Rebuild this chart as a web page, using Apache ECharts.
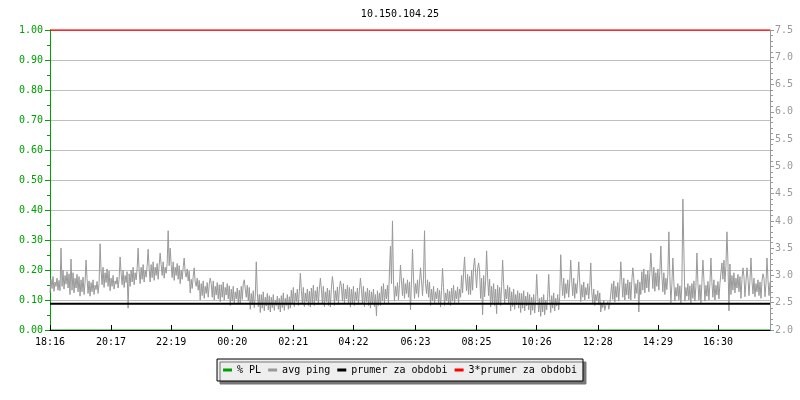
<!DOCTYPE html>
<html>
<head>
<meta charset="utf-8">
<script src="https://cdn.jsdelivr.net/npm/echarts@6/dist/echarts.min.js"></script>
<style>html,body{margin:0;padding:0;background:#fff}#c{width:800px;height:400px}</style>
</head>
<body>
<div id="c"></div>
<script>
const titleText = '10.150.104.25';
const legendNames = ['% PL', 'avg ping', 'prumer za obdobi', '3*prumer za obdobi'];
const tickIndex = [0, 61, 121, 182, 243, 303, 365, 426, 486, 547, 607, 667];
const tickLabels = ['18:16', '20:17', '22:19', '00:20', '02:21', '04:22', '06:23', '08:25', '10:26', '12:28', '14:29', '16:30'];
const plValues = [[0, 0], [719, 0]];
const avgPing = [
2.68,2.93,2.76,2.98,2.71,2.88,2.80,2.95,2.73,2.91,
2.72,3.50,2.80,3.10,2.75,3.00,2.84,3.07,2.77,3.03,
2.65,3.30,2.73,3.05,2.68,2.95,2.77,3.02,2.70,2.98,
2.62,2.92,2.70,2.97,2.65,2.87,3.28,2.94,2.67,2.90,
2.62,2.87,2.70,2.92,2.65,2.82,2.74,2.89,2.67,2.85,
3.58,3.10,2.83,3.15,2.78,3.05,2.87,3.12,2.80,3.08,
2.72,2.95,2.80,3.00,2.75,2.90,2.84,2.97,2.77,2.93,
3.34,3.05,2.83,3.10,2.78,3.00,2.87,3.07,2.40,3.03,
2.80,3.10,2.88,3.15,2.83,3.05,2.92,3.12,3.50,3.08,
2.85,3.15,2.93,3.20,2.88,3.10,2.97,3.17,3.48,3.13,
2.88,3.20,2.96,3.25,2.91,3.15,3.00,3.22,2.93,3.18,
3.41,3.20,3.00,3.25,2.95,3.15,3.04,3.22,3.82,3.18,
3.50,3.20,2.96,3.25,2.91,3.15,3.00,3.22,2.93,3.18,
2.85,3.10,2.93,3.15,3.32,3.05,2.97,3.12,2.90,3.08,
2.68,2.93,2.76,2.98,3.14,2.88,2.80,2.95,2.73,2.91,
2.55,2.85,2.63,2.90,2.58,2.80,2.67,2.87,2.60,2.83,
2.95,2.85,2.60,2.90,2.55,2.80,2.64,2.87,2.57,2.83,
2.52,2.83,2.60,2.88,2.55,2.78,2.64,2.85,2.57,2.81,
2.45,2.75,2.53,2.80,2.48,2.70,2.57,2.77,2.50,2.73,
2.48,2.80,2.56,2.85,2.92,2.75,2.60,2.82,2.53,2.78,
2.38,2.67,2.46,2.72,2.41,2.62,3.25,2.69,2.43,2.65,
2.32,2.65,2.40,2.70,2.35,2.60,2.44,2.67,2.37,2.63,
2.33,2.60,2.41,2.65,2.36,2.55,2.45,2.62,2.38,2.58,
2.33,2.63,2.41,2.68,2.36,2.58,2.45,2.65,2.38,2.61,
2.40,2.73,2.48,2.78,2.43,2.68,2.52,2.75,2.45,2.71,
3.04,2.73,2.48,2.78,2.43,2.68,2.52,2.75,2.45,2.71,
2.42,2.77,2.50,2.82,2.45,2.72,2.54,2.79,2.47,2.75,
2.95,2.75,2.48,2.80,2.43,2.70,2.52,2.77,2.45,2.73,
2.42,2.77,2.98,2.82,2.45,2.72,2.54,2.79,2.47,2.75,
2.90,2.80,2.53,2.85,2.48,2.75,2.57,2.82,2.50,2.78,
2.42,2.75,2.50,2.80,2.45,2.70,2.54,2.77,2.47,2.73,
2.95,2.75,2.48,2.80,2.43,2.70,2.52,2.77,2.45,2.73,
2.40,2.70,2.48,2.75,2.43,2.65,2.26,2.72,2.45,2.68,
2.45,2.80,2.53,2.85,2.48,2.75,2.57,2.82,2.50,3.10,
3.54,2.85,4.00,2.90,2.53,2.80,2.62,2.87,2.55,2.83,
3.19,2.90,2.63,2.95,2.58,2.85,2.67,2.92,2.60,2.88,
2.37,2.90,3.48,2.95,2.58,2.85,2.67,2.92,2.60,2.88,
3.14,2.90,2.63,2.95,3.82,2.85,2.67,2.92,2.60,2.88,
2.45,2.75,2.53,2.80,2.48,2.70,2.57,2.77,2.50,2.73,
2.42,2.73,3.13,2.78,2.45,2.68,2.54,2.75,2.47,2.71,
2.45,2.77,2.53,2.82,2.48,2.72,2.57,2.79,2.50,2.75,
2.60,3.00,2.68,3.05,3.34,2.95,2.72,3.02,2.65,2.98,
2.65,3.10,2.73,3.15,3.32,3.05,2.77,3.12,3.23,3.08,
2.58,2.95,2.28,3.00,2.61,2.90,3.45,2.97,2.63,2.93,
2.42,2.80,2.50,2.85,2.45,2.75,2.30,2.82,2.47,2.78,
2.45,2.80,3.28,2.85,2.48,2.75,2.57,2.82,2.50,2.78,
2.35,2.70,2.43,2.75,2.38,2.65,2.47,2.72,2.40,2.68,
2.32,2.67,2.40,2.72,2.35,2.62,2.44,2.69,2.37,2.65,
2.28,2.60,2.36,2.65,2.31,2.55,3.02,2.62,2.33,2.58,
2.25,2.60,2.33,2.65,2.28,2.55,2.37,2.62,3.02,2.58,
2.32,2.63,2.40,2.68,2.35,2.58,2.44,2.65,2.37,2.61,
3.38,2.90,2.63,2.95,2.58,2.85,2.67,2.92,2.60,2.88,
3.28,2.90,2.63,2.95,2.58,2.85,2.67,2.92,3.25,2.88,
2.52,2.83,2.60,2.88,2.55,2.78,2.64,2.85,2.57,2.81,
3.23,2.70,2.50,2.75,2.45,2.65,2.54,2.72,2.47,2.68,
2.33,2.50,2.41,2.55,2.36,2.45,2.45,2.52,2.38,2.48,
2.48,2.85,2.56,2.90,2.51,2.80,2.60,2.87,2.53,2.83,
3.25,2.90,2.60,2.95,2.55,2.85,2.64,2.92,2.57,2.88,
2.55,2.90,3.14,2.95,2.58,2.85,2.67,2.92,2.33,2.88,
2.65,3.07,2.73,3.12,2.68,3.02,2.77,3.09,2.70,3.05,
3.41,3.10,2.76,3.15,2.71,3.05,2.80,3.12,2.73,3.08,
3.54,3.00,2.70,3.05,2.65,2.95,2.74,3.02,3.80,2.98,
2.50,2.83,3.32,2.88,2.53,2.78,2.62,2.85,2.55,2.81,
2.50,2.83,4.40,3.45,2.53,2.78,2.62,2.85,2.55,2.81,
2.50,2.85,2.58,2.90,2.53,2.80,3.41,2.87,2.55,2.83,
2.50,2.87,3.28,2.92,2.53,2.82,2.62,2.89,2.55,2.85,
3.32,2.87,2.60,2.92,2.55,2.82,2.64,2.89,2.57,2.85,
2.85,3.23,2.93,3.28,2.88,3.18,3.80,3.25,2.35,3.21,
2.65,3.00,2.73,3.05,2.68,2.95,2.77,3.02,2.70,2.98,
2.58,2.93,3.14,2.98,2.61,2.88,3.14,2.95,2.63,2.91,
3.32,2.90,2.66,2.95,2.61,2.85,2.70,2.92,2.63,2.88,
2.58,2.90,3.03,2.95,2.61,2.85,3.32,2.92,2.63,2.88
];
const meanLine = [[0, 2.48], [719, 2.48]];
const tripleMeanLine = [[0, 7.5], [719, 7.5]];

const categories = avgPing.map((_, i) => String(i));
const font = 'DejaVu Sans Mono';
const chart = echarts.init(document.getElementById('c'), null, {renderer: 'canvas'});
chart.setOption({
  animation: false,
  backgroundColor: '#ffffff',
  title: {
    text: titleText, left: 'center', top: 4,
    textStyle: {fontFamily: font, fontSize: 10, fontWeight: 'normal', color: '#000'}
  },
  legend: {
    data: legendNames, top: 359, left: 'center',
    icon: 'rect', itemWidth: 9, itemHeight: 3, itemGap: 7,
    padding: [6, 6], backgroundColor: '#eeeeee', borderColor: '#000', borderWidth: 1,
    shadowColor: '#777', shadowBlur: 0, shadowOffsetX: 3, shadowOffsetY: 3,
    textStyle: {fontFamily: font, fontSize: 10, color: '#000'}
  },
  grid: {left: 50, right: 30, top: 30, bottom: 70},
  xAxis: {
    type: 'category', data: categories, boundaryGap: false, z: 10,
    axisLine: {lineStyle: {color: '#000', width: 1}},
    axisTick: {inside: true, length: 5, lineStyle: {color: '#000'}, interval: (i) => tickIndex.includes(i)},
    axisLabel: {
      interval: (i) => tickIndex.includes(i), margin: 7,
      fontFamily: font, fontSize: 10, color: '#000',
      formatter: (v, i) => tickLabels[tickIndex.indexOf(i)] || ''
    },
    splitLine: {show: false}
  },
  yAxis: [
    {
      type: 'value', min: 0, max: 1, interval: 0.1, position: 'left',
      axisLine: {show: true, lineStyle: {color: '#00a000'}},
      axisTick: {show: true, length: 5, lineStyle: {color: '#00a000'}},
      minorTick: {show: true, splitNumber: 2, length: 3, lineStyle: {color: '#00a000'}},
      axisLabel: {margin: 7, fontFamily: font, fontSize: 10, color: '#00a000', formatter: (v) => v.toFixed(2)},
      splitLine: {show: true, lineStyle: {color: '#c0c0c0', width: 1}}
    },
    {
      type: 'value', min: 2, max: 7.5, interval: 0.5, position: 'right',
      axisLine: {show: true, lineStyle: {color: '#999'}},
      axisTick: {show: true, length: 4, lineStyle: {color: '#999'}},
      minorTick: {show: true, splitNumber: 5, length: 3, lineStyle: {color: '#999'}},
      axisLabel: {margin: 5, fontFamily: font, fontSize: 10, color: '#999', formatter: (v) => v.toFixed(1)},
      splitLine: {show: false}
    }
  ],
  series: [
    {name: legendNames[0], type: 'line', yAxisIndex: 0, data: plValues, symbol: 'none', color: '#00a000',
     lineStyle: {width: 1, color: '#00a000'}, z: 1},
    {name: legendNames[1], type: 'line', yAxisIndex: 1, data: avgPing, symbol: 'none', color: '#999999',
     lineStyle: {width: 1, color: '#999999'}, z: 2},
    {name: legendNames[2], type: 'line', yAxisIndex: 1, data: meanLine, symbol: 'none', color: '#000',
     lineStyle: {width: 2, color: '#000'}, z: 3},
    {name: legendNames[3], type: 'line', yAxisIndex: 1, data: tripleMeanLine, symbol: 'none', color: '#ff0000',
     lineStyle: {width: 1.5, color: '#ff0000'}, z: 3}
  ]
});
</script>
</body>
</html>
